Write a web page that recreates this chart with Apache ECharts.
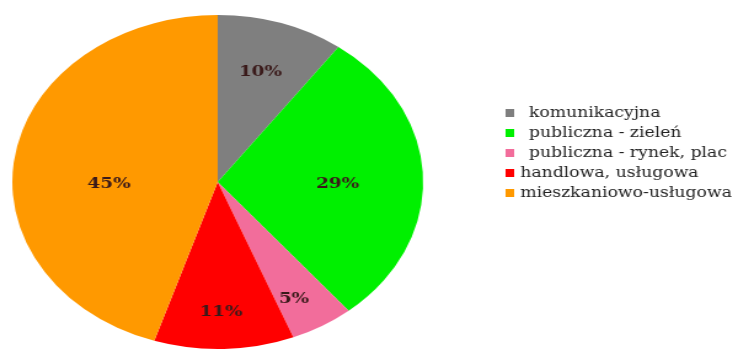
<!DOCTYPE html>
<html>
<head>
<meta charset="utf-8">
<script src="https://cdn.jsdelivr.net/npm/echarts@6/dist/echarts.min.js"></script>
<style>
    html, body { margin: 0; padding: 0; background: #fff; overflow: hidden; }
    /* oryginał jest rozciągnięty w poziomie, więc całość skalujemy */
    #chart { width: 600px; height: 352px; transform: scaleX(1.23); transform-origin: 0 0; }
</style>
</head>
<body>
<div id="chart"></div>
<script>
    let names = ['komunikacyjna', 'publiczna - zieleń', 'publiczna - rynek, plac', 'handlowa, usługowa', 'mieszkaniowo-usługowa'];
    let values = [10, 29, 5, 11, 45];
    let colors = ['#7f7f7f', '#00f000', '#f26d9b', '#ff0000', '#ff9900'];
    let labelShift = [[8, -28], [11, 5], [18, 43], [0, 44], [-3, 16]];

    let myChart = echarts.init(document.getElementById('chart'));
    let pieData = [];
    names.forEach((n, i) => {
        pieData.push({
            name: n,
            value: values[i],
            itemStyle: { color: colors[i] },
            label: { offset: labelShift[i] }
        });
    });

    let option = {
        animation: false,
        legend: {
            orient: 'vertical',
            left: 406,
            top: 100,
            icon: 'rect',
            itemWidth: 7,
            itemHeight: 8,
            itemGap: 4,
            itemStyle: { borderWidth: 0 },
            textStyle: {
                fontFamily: 'DejaVu Serif',
                fontSize: 14,
                lineHeight: 16,
                color: '#222'
            },
            formatter: function (name) {
                // pierwsze trzy pozycje mają w oryginale odstęp po znaczniku
                return names.indexOf(name) < 3 ? '\u2002' + name : name;
            },
            data: names
        },
        series: [{
            type: 'pie',
            center: [177, 182],
            radius: [0, 167],
            startAngle: 90,
            clockwise: true,
            label: {
                show: true,
                position: 'inside',
                formatter: '{c}%',
                fontFamily: 'DejaVu Serif',
                fontWeight: 'bold',
                fontSize: 15,
                color: '#3a1a1a'
            },
            labelLine: { show: false },
            itemStyle: { borderWidth: 0 },
            emphasis: { disabled: true },
            data: pieData
        }]
    };
    myChart.setOption(option);
</script>
</body>
</html>
